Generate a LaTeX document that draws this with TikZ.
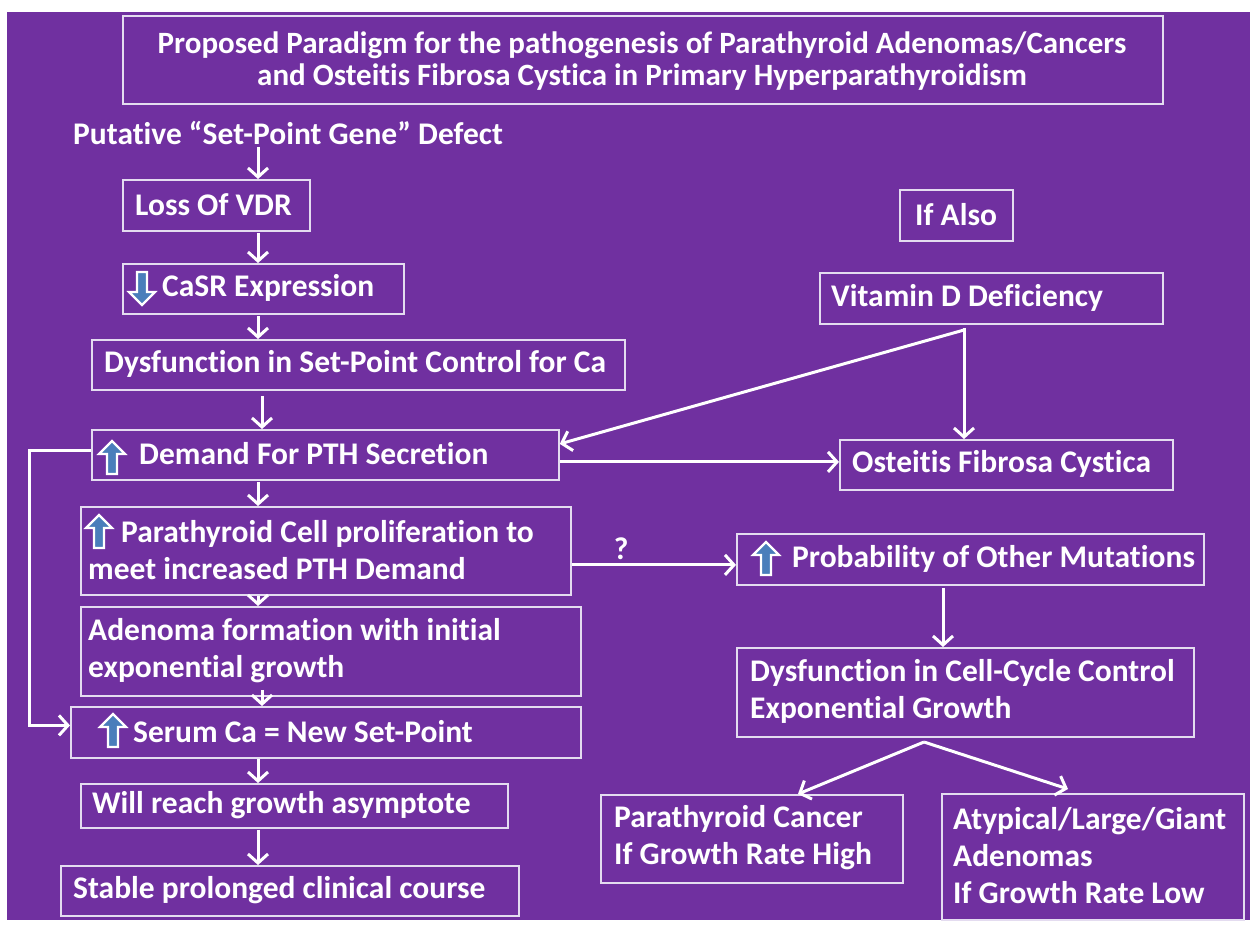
\documentclass[tikz,border=0pt]{standalone}
\usepackage{fontspec}
\setmainfont{Carlito}[Ligatures=NoCommon]
\usetikzlibrary{arrows.meta}
\definecolor{bg}{RGB}{112,48,160}
\definecolor{boxln}{RGB}{228,220,240}
\definecolor{iconblue}{RGB}{74,126,187}
\newcommand{\fsz}{\bfseries\fontsize{31.5}{37}\selectfont}
\newcommand{\tsz}{\bfseries\fontsize{31}{32}\selectfont}
\begin{document}
\begin{tikzpicture}[x=1pt,y=-1pt,
  box/.style={draw=boxln, line width=1.8pt, anchor=north west, inner sep=0pt},
  txt/.style={text=white, font=\fsz, anchor=west, align=left, inner sep=0pt},
  arr/.style={draw=white, line width=3pt, -{Straight Barb[length=9pt,width=20pt]}},
  uparr/.pic={\draw[white, line width=2.2pt, fill=iconblue, line join=miter] (0,-16) -- (13,-3) -- (5,-3) -- (5,17) -- (-5,17) -- (-5,-3) -- (-13,-3) -- cycle;},
  downarr/.pic={\draw[white, line width=2.2pt, fill=iconblue, line join=miter] (0,16) -- (13,3) -- (5,3) -- (5,-17) -- (-5,-17) -- (-5,3) -- (-13,3) -- cycle;}
]
\useasboundingbox (0,0) rectangle (1250,924);
\fill[white] (0,0) rectangle (1250,924);
\fill[bg] (7,12) rectangle (1250,920);

% title
\node[box, minimum width=1040pt, minimum height=88pt] (title) at (122,15) {};
\node[text=white, font=\tsz, align=center, inner sep=0pt] (titletxt) at (642,61)
  {Proposed Paradigm for the pathogenesis of Parathyroid Adenomas/Cancers\\and Osteitis Fibrosa Cystica in Primary Hyperparathyroidism};

% left column
\node[txt] (putative) at (73,133) {Putative “Set-Point Gene” Defect};

\node[box, minimum width=187pt, minimum height=51pt] (loss) at (122,179) {};
\node[txt] (losst) at (135,204.5) {Loss Of VDR};

\node[box, minimum width=281pt, minimum height=50pt] (casr) at (122,263) {};
\pic at (142,289) {downarr};
\node[txt] (casrt) at (162,288) {CaSR Expression};

\node[box, minimum width=533pt, minimum height=50pt] (setpt) at (91,339) {};
\node[txt] (setptt) at (104,364) {Dysfunction in Set-Point Control for Ca};

\node[box, minimum width=467pt, minimum height=50pt] (demand) at (91,429) {};
\pic at (112,457) {uparr};
\node[txt] (demandt) at (139,454) {Demand For PTH Secretion};

\node[box, minimum width=490pt, minimum height=88pt] (prolif) at (80,506) {};
\pic at (99,531) {uparr};
\node[txt] (prolift) at (88,550) {\hspace*{33pt}Parathyroid Cell proliferation to\\meet increased PTH Demand};

\node[box, minimum width=500pt, minimum height=89pt] (adenoma) at (80,606) {};
\node[txt] (adenomat) at (88,650.5) {Adenoma formation with initial\\exponential growth};

\node[box, minimum width=510pt, minimum height=51pt] (serum) at (70,706) {};
\pic at (113,730) {uparr};
\node[txt] (serumt) at (133,731.5) {Serum Ca = New Set-Point};

\node[box, minimum width=427pt, minimum height=44pt] (will) at (80,783) {};
\node[txt] (willt) at (92,805) {Will reach growth asymptote};

\node[box, minimum width=458pt, minimum height=50pt] (stable) at (60,865) {};
\node[txt] (stablet) at (73,890) {Stable prolonged clinical course};

% right column
\node[box, minimum width=113pt, minimum height=51pt] (ifalso) at (899,189) {};
\node[txt] (ifalsot) at (915,214.5) {If Also};

\node[box, minimum width=343pt, minimum height=51pt] (vitd) at (819,272) {};
\node[txt] (vitdt) at (831,297.5) {Vitamin D Deficiency};

\node[box, minimum width=333pt, minimum height=50pt] (osteitis) at (839,439) {};
\node[txt] (osteitist) at (852,464) {Osteitis Fibrosa Cystica};

\node[box, minimum width=467pt, minimum height=51pt] (prob) at (736,533) {};
\pic at (766,558) {uparr};
\node[txt] (probt) at (792,558.5) {Probability of Other Mutations};

\node[box, minimum width=457pt, minimum height=89pt] (cycle) at (736,647) {};
\node[txt] (cyclet) at (750,691.5) {Dysfunction in Cell-Cycle Control\\Exponential Growth};

\node[box, minimum width=302pt, minimum height=88pt] (cancer) at (600,794) {};
\node[txt] (cancert) at (614,838) {Parathyroid Cancer\\If Growth Rate High};

\node[box, minimum width=302pt, minimum height=126pt] (atyp) at (941,793) {};
\node[txt] (atypt) at (953,856) {Atypical/Large/Giant\\Adenomas\\If Growth Rate Low};

% helper x positions
\coordinate (xa) at (258,0);
\coordinate (xb) at (262,0);
\coordinate (xv) at (964,0);
\coordinate (xp) at (943,0);
\coordinate (xc) at (798,0);
\coordinate (xt) at (1068,0);

% vertical chain
\draw[arr] ([yshift=-2pt]putative.south -| xa) -- (loss.north -| xa);
\draw[arr] ([yshift=-1pt]loss.south -| xa) -- (casr.north -| xa);
\draw[arr] ([yshift=-1pt]casr.south -| xa) -- (setpt.north -| xa);
\draw[arr] ([yshift=-5pt]setpt.south -| xb) -- (demand.north -| xb);
\draw[arr] ([yshift=-1pt]demand.south -| xa) -- (prolif.north -| xa);
\draw[arr] (prolif.south -| xa) -- (adenoma.north -| xa);
\draw[arr] ([yshift=7pt]adenoma.south -| xb) -- (serum.north -| xb);
\draw[arr] (serum.south -| xa) -- (will.north -| xa);
\draw[arr] ([yshift=-1pt]will.south -| xa) -- (stable.north -| xa);

% feedback loop
\draw[arr] ([yshift=4pt]demand.west) -- ++(-62,0) |- ([yshift=7pt]serum.west);

% vitamin D
\coordinate (vsplit) at (964,330);
\draw[arr] ([yshift=-3pt]vitd.south -| xv) -- (osteitis.north -| xv);
\draw[arr] (vsplit) -- ([yshift=11pt]demand.east);

% demand -> osteitis
\coordinate (d2) at ([yshift=-7pt]demand.east);
\draw[arr] (d2) -- (d2 -| osteitis.west);

% prolif -> prob
\coordinate (p2) at ([yshift=-14pt]prolif.east);
\draw[arr] (p2) -- node[pos=0.3, above=4pt, text=white, font=\fsz, inner sep=0pt] (qm) {?} (p2 -| prob.west);

% prob -> cycle
\draw[arr] ([yshift=-2pt]prob.south -| xp) -- (cycle.north -| xp);

% cycle -> outcomes
\coordinate (csplit) at (924,742);
\draw[arr] (csplit) -- (cancer.north -| xc);
\draw[arr] (csplit) -- ([yshift=4pt]atyp.north -| xt);
\end{tikzpicture}
\end{document}
